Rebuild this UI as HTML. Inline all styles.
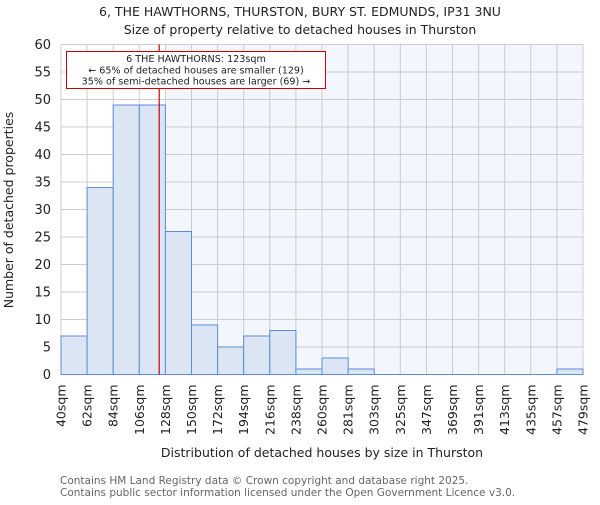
<!DOCTYPE html>
<html><head><meta charset="utf-8"><style>body{margin:0;background:#fff}text{font-family:"DejaVu Sans","Liberation Sans",sans-serif}</style></head>
<body>
<svg id="chart" width="600" height="500" xmlns="http://www.w3.org/2000/svg">
<text x="300" y="16" text-anchor="middle" font-size="12.5" fill="#222">6, THE HAWTHORNS, THURSTON, BURY ST. EDMUNDS, IP31 3NU</text>
<text x="300" y="34" text-anchor="middle" font-size="12.5" fill="#222">Size of property relative to detached houses in Thurston</text>
<g id="plot"></g>
<text x="322" y="457" text-anchor="middle" font-size="12.5" fill="#222">Distribution of detached houses by size in Thurston</text>
<text transform="translate(13,210) rotate(-90)" text-anchor="middle" font-size="12.5" fill="#222">Number of detached properties</text>
<text x="60" y="484" font-size="10.5" fill="#666">Contains HM Land Registry data © Crown copyright and database right 2025.</text>
<text x="60" y="496" font-size="10.5" fill="#666">Contains public sector information licensed under the Open Government Licence v3.0.</text>
</svg>
<script>
const binLabels=["40sqm","62sqm","84sqm","106sqm","128sqm","150sqm","172sqm","194sqm","216sqm","238sqm","260sqm","281sqm","303sqm","325sqm","347sqm","369sqm","391sqm","413sqm","435sqm","457sqm","479sqm"];
const counts=[7,34,49,49,26,9,5,7,8,1,3,1,0,0,0,0,0,0,0,1];
const yTicks=[0,5,10,15,20,25,30,35,40,45,50,55,60];
const subjectSize=123;
const highlightBins=4;
const NS="http://www.w3.org/2000/svg";
const L=61,R=583,T=44.5,B=374.5,YMAX=60;
const nb=counts.length,bw=(R-L)/nb;
const xb=i=>L+i*bw;
const xv=v=>L+(v-40)/(479-40)*(R-L);
const y=v=>B-(v/YMAX)*(B-T);
const g=document.getElementById('plot');
function mk(t,a){const e=document.createElementNS(NS,t);for(const k in a)e.setAttribute(k,a[k]);g.appendChild(e);return e;}
let e=mk('rect',{x:L,y:T,width:R-L,height:B-T,fill:'#f3f6fd'});


e=mk('rect',{x:L,y:T,width:xb(highlightBins)-L,height:B-T,fill:'#ffffff'});


for(let i=0;i<=nb;i++){e=mk('line',{x1:xb(i),x2:xb(i),y1:T,y2:B,stroke:'#cccccc','stroke-width':1});

}
yTicks.forEach(t=>{e=mk('line',{x1:L,x2:R,y1:y(t),y2:y(t),stroke:'#cccccc','stroke-width':1});


e=mk('text',{x:L-10,y:y(t)+4.5,'text-anchor':'end','font-size':'13',fill:'#222'});e.textContent=t;

});
counts.forEach((c,i)=>{if(c<=0)return;e=mk('rect',{x:xb(i),y:y(c),width:bw,height:B-y(c),fill:'#dce5f4',stroke:'#5b8ed6','stroke-width':1});

});
e=mk('line',{x1:L,x2:R,y1:B,y2:B,stroke:'#5b8ed6','stroke-width':1});


binLabels.forEach((s,i)=>{const x=xb(i);e=mk('text',{transform:`translate(${x+4.5},${B+10}) rotate(-90)`,'text-anchor':'end','font-size':'12.5',fill:'#222'});e.textContent=s;

});
const sx=xv(subjectSize)-0.5;
e=mk('line',{x1:sx,x2:sx,y1:T,y2:B,stroke:'#cc0000','stroke-width':1.2});


e=mk('rect',{x:66.5,y:51.5,width:259,height:37,fill:'#fff',stroke:'#cc0000','stroke-width':1});


["6 THE HAWTHORNS: 123sqm","← 65% of detached houses are smaller (129)","35% of semi-detached houses are larger (69) →"].forEach((s,i)=>{e=mk('text',{x:196,y:62+i*11.3,'text-anchor':'middle','font-size':'9.6',fill:'#222'});e.textContent=s;

});
</script>
</body></html>
